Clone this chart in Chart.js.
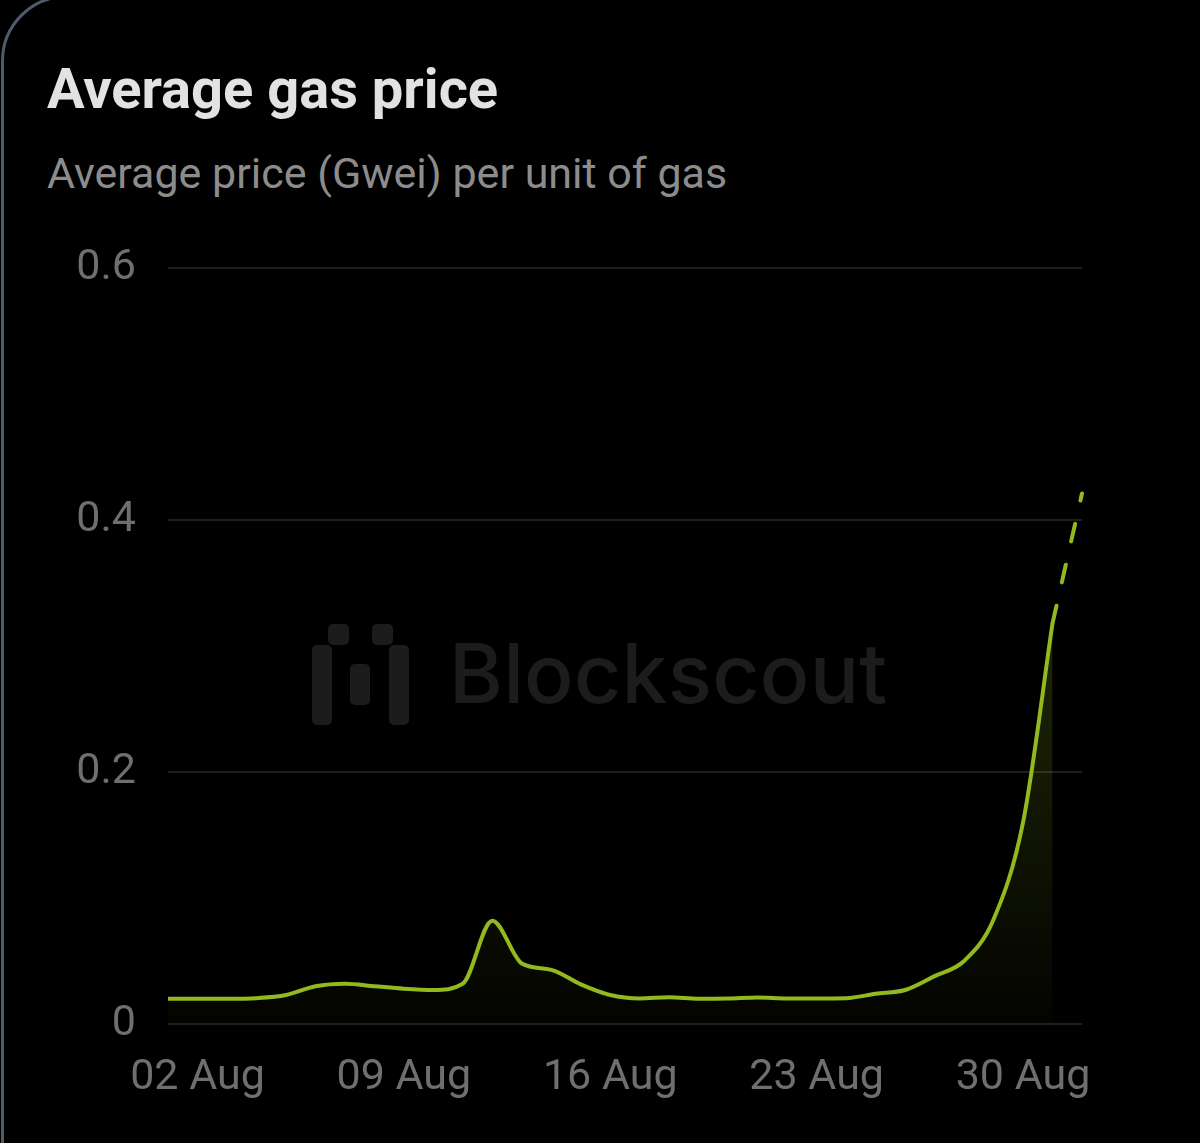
<!DOCTYPE html>
<html>
<head>
<meta charset="utf-8">
<script src="https://cdn.jsdelivr.net/npm/chart.js@4/dist/chart.umd.min.js"></script>
<style>
  html, body { margin: 0; padding: 0; background: #000; }
  body { width: 1200px; height: 1143px; position: relative; overflow: hidden; font-family: Roboto, "Noto Sans", sans-serif; }
  #card { position: absolute; left: 1px; top: -5px; width: 1500px; height: 1400px; border: 3px solid #4f5a6a; border-radius: 66px; box-sizing: border-box; }
  #title { position: absolute; left: 47px; top: 61px; font-size: 56px; font-weight: 700; color: #e2e2e2; line-height: 1; white-space: nowrap; }
  #subtitle { position: absolute; left: 47px; top: 152px; font-size: 43px; font-weight: 400; color: #8c8c8c; line-height: 1; white-space: nowrap; }
  #wm { position: absolute; left: 0; top: 0; width: 1200px; height: 1143px; }
  .lg { position: absolute; background: #1c1c1c; border-radius: 5px; }
  #wmtext { position: absolute; left: 449px; top: 633px; font-family: Inter, sans-serif; font-weight: 500; font-size: 82px; color: #1c1c1c; line-height: 1; letter-spacing: 0.3px; white-space: nowrap; }
  #chart { position: absolute; left: 0; top: 0; }
</style>
</head>
<body>
<div id="card"></div>
<div id="wm">
  <div class="lg" style="left:312px;top:645px;width:20px;height:80px;"></div>
  <div class="lg" style="left:328px;top:624px;width:21px;height:21px;"></div>
  <div class="lg" style="left:350px;top:664px;width:20px;height:41px;"></div>
  <div class="lg" style="left:372px;top:624px;width:21px;height:21px;"></div>
  <div class="lg" style="left:389px;top:645px;width:20px;height:80px;"></div>
  <div id="wmtext">Blockscout</div>
</div>
<div id="title">Average gas price</div>
<div id="subtitle">Average price (Gwei) per unit of gas</div>
<canvas id="chart" width="1200" height="1143"></canvas>
<script>
const days = ['01 Aug','02 Aug','03 Aug','04 Aug','05 Aug','06 Aug','07 Aug','08 Aug','09 Aug','10 Aug',
  '11 Aug','12 Aug','13 Aug','14 Aug','15 Aug','16 Aug','17 Aug','18 Aug','19 Aug','20 Aug',
  '21 Aug','22 Aug','23 Aug','24 Aug','25 Aug','26 Aug','27 Aug','28 Aug','29 Aug','30 Aug',
  '31 Aug','01 Sep'];
const tickLabels = ['02 Aug','09 Aug','16 Aug','23 Aug','30 Aug'];
const yTicks = [0, 0.2, 0.4, 0.6];
// Observed daily averages (Gwei), 01 Aug - 31 Aug
const gasPrice = [0.020,0.020,0.020,0.0205,0.023,0.030,0.032,0.030,0.028,0.027,
  0.032,0.082,0.048,0.043,0.0315,0.023,0.0203,0.0213,0.0200,0.0202,
  0.0210,0.0203,0.0203,0.0205,0.024,0.027,0.038,0.050,0.083,0.160,
  0.318];
// Incomplete / projected last point (01 Sep)
const gasPriceProjected = 0.421;

const solidData = gasPrice.concat([null]);
const dashedData = days.map((d, i) => i === gasPrice.length - 1 ? gasPrice[i] : (i === days.length - 1 ? gasPriceProjected : null));

const lineColor = '#92b91e';

new Chart(document.getElementById('chart'), {
  type: 'line',
  data: {
    labels: days,
    datasets: [
      {
        data: solidData,
        borderColor: lineColor,
        borderWidth: 4,
        pointRadius: 0,
        cubicInterpolationMode: 'monotone',
        fill: 'origin',
        backgroundColor: (ctx) => {
          const chart = ctx.chart;
          const area = chart.chartArea;
          if (!area) return 'rgba(146,185,30,0.1)';
          const g = chart.ctx.createLinearGradient(0, area.top, 0, area.bottom);
          g.addColorStop(0, 'rgba(146,185,30,0.38)');
          g.addColorStop(1, 'rgba(146,185,30,0.02)');
          return g;
        }
      },
      {
        data: dashedData,
        borderColor: lineColor,
        borderWidth: 4,
        borderDash: [18, 24],
        borderCapStyle: 'round',
        pointRadius: 0,
        fill: false
      }
    ]
  },
  options: {
    responsive: false,
    animation: false,
    events: [],
    layout: { padding: { left: 20, right: 118, top: 268, bottom: 20 } },
    plugins: { legend: { display: false }, tooltip: { enabled: false } },
    scales: {
      x: {
        grid: { display: false, drawTicks: false },
        border: { display: false },
        ticks: {
          autoSkip: false,
          maxRotation: 0,
          padding: 28,
          color: '#6f6f6f',
          font: { family: 'Roboto', size: 43 },
          callback: function(value, index) {
            const lbl = days[index];
            return tickLabels.includes(lbl) ? lbl : '';
          }
        },
        afterFit: (scale) => { scale.height = 1143 - 1024 - 20; }
      },
      y: {
        min: 0,
        max: 0.6,
        grid: { color: '#1e1e1e', lineWidth: 2, drawTicks: false },
        border: { display: false },
        afterBuildTicks: (scale) => { scale.ticks = yTicks.map(v => ({ value: v })); },
        ticks: {
          padding: 32,
          color: '#6f6f6f',
          font: { family: 'Roboto', size: 43 },
          callback: (v) => v === 0 ? '0' : v.toFixed(1)
        },
        afterFit: (scale) => { scale.width = 168 - 20; }
      }
    }
  }
});
</script>
</body>
</html>
